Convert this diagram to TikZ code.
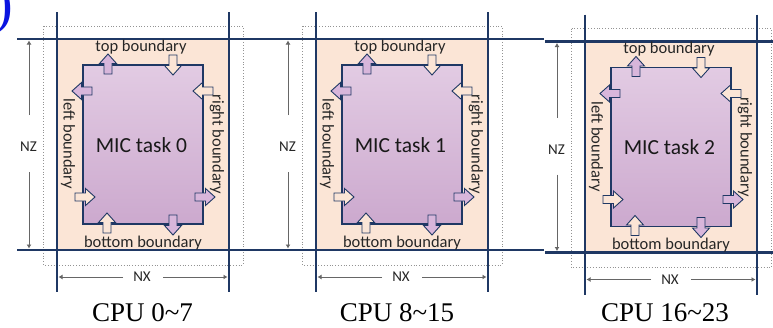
\documentclass[tikz,border=0pt]{standalone}
\usepackage{fontspec}
\setmainfont{Liberation Serif}
\newfontfamily\calfont{Carlito}
\usetikzlibrary{arrows.meta}
\definecolor{navy}{HTML}{1F3864}
\definecolor{peach}{HTML}{FBE5D6}
\definecolor{lilac}{HTML}{D8B6DB}
\definecolor{lilactop}{HTML}{E2CBE3}
\definecolor{lilacbot}{HTML}{CCA9CE}
\definecolor{dimgray}{HTML}{666666}
\definecolor{parblue}{HTML}{0A14E0}
\tikzset{
  gridline/.style={draw=navy, line width=2.6pt},
  dotbox/.style={draw=gray!85, dotted, line width=0.8pt},
  taskbox/.style={draw=navy, line width=1.4pt, top color=lilactop, bottom color=lilacbot},
  outarrow/.style={draw=navy, line width=0.9pt, fill=lilac, line join=miter},
  inarrow/.style={draw=navy, line width=0.9pt, fill=peach, line join=miter},
  dimline/.style={draw=dimgray, line width=1pt},
  dimtip/.style={-{Latex[length=4pt,width=5pt]}},
  bnd/.style={font=\calfont\fontsize{16.5}{18}\selectfont, text=black!85, inner sep=0pt},
  micl/.style={font=\calfont\fontsize{21.5}{24}\selectfont, text=black!90, inner sep=0pt},
  diml/.style={font=\calfont\fontsize{15}{16}\selectfont, text=black!85, inner sep=0pt},
  cpul/.style={font=\fontsize{27}{29}\selectfont, text=black, inner sep=0pt, anchor=base},
}
% block arrow: style, tail x, tail y, angle
\newcommand\blockarr[4]{%
  \draw[#1, shift={(#2,#3)}, rotate=#4]
    (0,-4) -- (10.5,-4) -- (10.5,-8.5) -- (20,0) -- (10.5,8.5) -- (10.5,4) -- (0,4) -- cycle;}
% panel: index, dx, dy, MIC number
\newcommand\drawpanel[4]{%
\begin{scope}[shift={(#2,#3)}]
  \fill[peach] (57,39) rectangle (229,250);
  \draw[dotbox] (43.5,26) rectangle (243,265);
  \coordinate (tl#1) at (17,39);   \coordinate (tr#1) at (285,39);
  \coordinate (bl#1) at (17,250);  \coordinate (br#1) at (285,250);
  \coordinate (lt#1) at (57,12);   \coordinate (lb#1) at (57,292);
  \coordinate (rt#1) at (229,12);  \coordinate (rb#1) at (229,292);
  \draw[gridline] (tl#1) -- (tr#1);
  \draw[gridline] (bl#1) -- (br#1);
  \draw[gridline] (lt#1) -- (lb#1);
  \draw[gridline] (rt#1) -- (rb#1);
  \node[taskbox, draw, minimum width=120pt, minimum height=159pt, inner sep=0pt]
    (task#1) at (143,144.5) {};
  \node[micl] (mic#1) at (141.5,145) {MIC task #4};
  \blockarr{outarrow}{108}{74}{90}
  \blockarr{inarrow}{173}{55}{-90}
  \blockarr{outarrow}{92}{91}{180}
  \blockarr{inarrow}{213}{91}{180}
  \blockarr{inarrow}{75}{197}{0}
  \blockarr{outarrow}{195}{197}{0}
  \blockarr{inarrow}{107}{233}{90}
  \blockarr{outarrow}{173}{215}{-90}
  \node[bnd] (top#1) at (141,47) {top boundary};
  \node[bnd] (bot#1) at (143,243) {bottom boundary};
  \node[bnd, rotate=-90] (lft#1) at (68,144) {left boundary};
  \node[bnd, rotate=-90] (rgt#1) at (217,144.5) {right boundary};
  % NZ dimension
  \node[diml] (nz#1) at (28.5,147) {NZ};
  \coordinate (nzt#1) at (29,40.5);  \coordinate (nzu#1) at (29,115);
  \coordinate (nzb#1) at (29,248.5); \coordinate (nzl#1) at (29,172);
  \draw[dimline, dimtip] (nzu#1) -- (nzt#1);
  \draw[dimline, dimtip] (nzl#1) -- (nzb#1);
  % NX dimension
  \node[diml] (nx#1) at (142,277) {NX};
  \coordinate (nxl#1) at (58.5,277); \coordinate (nxa#1) at (123,277);
  \coordinate (nxr#1) at (227.5,277); \coordinate (nxb#1) at (163,277);
  \draw[dimline, dimtip] (nxa#1) -- (nxl#1);
  \draw[dimline, dimtip] (nxb#1) -- (nxr#1);
\end{scope}}
\begin{document}
\begin{tikzpicture}[x=1pt, y=-1pt]
  \useasboundingbox (0,0) rectangle (773,327);
  \clip (0,0) rectangle (773,327);
  \fill[white] (0,0) rectangle (773,327);
  \drawpanel{0}{0}{0}{0}
  \drawpanel{1}{259}{0}{1}
  \drawpanel{2}{528}{2.5}{2}
  \node[cpul] (cpu0) at (142.5,321) {CPU 0\textasciitilde 7};
  \node[cpul] (cpu1) at (397,321) {CPU 8\textasciitilde 15};
  \node[cpul] (cpu2) at (665,321.5) {CPU 16\textasciitilde 23};
  \node[anchor=base east, inner sep=0pt, text=parblue,
        font=\fontsize{56}{56}\selectfont] (paren) at (13.5,22) {)};
\end{tikzpicture}
\end{document}
